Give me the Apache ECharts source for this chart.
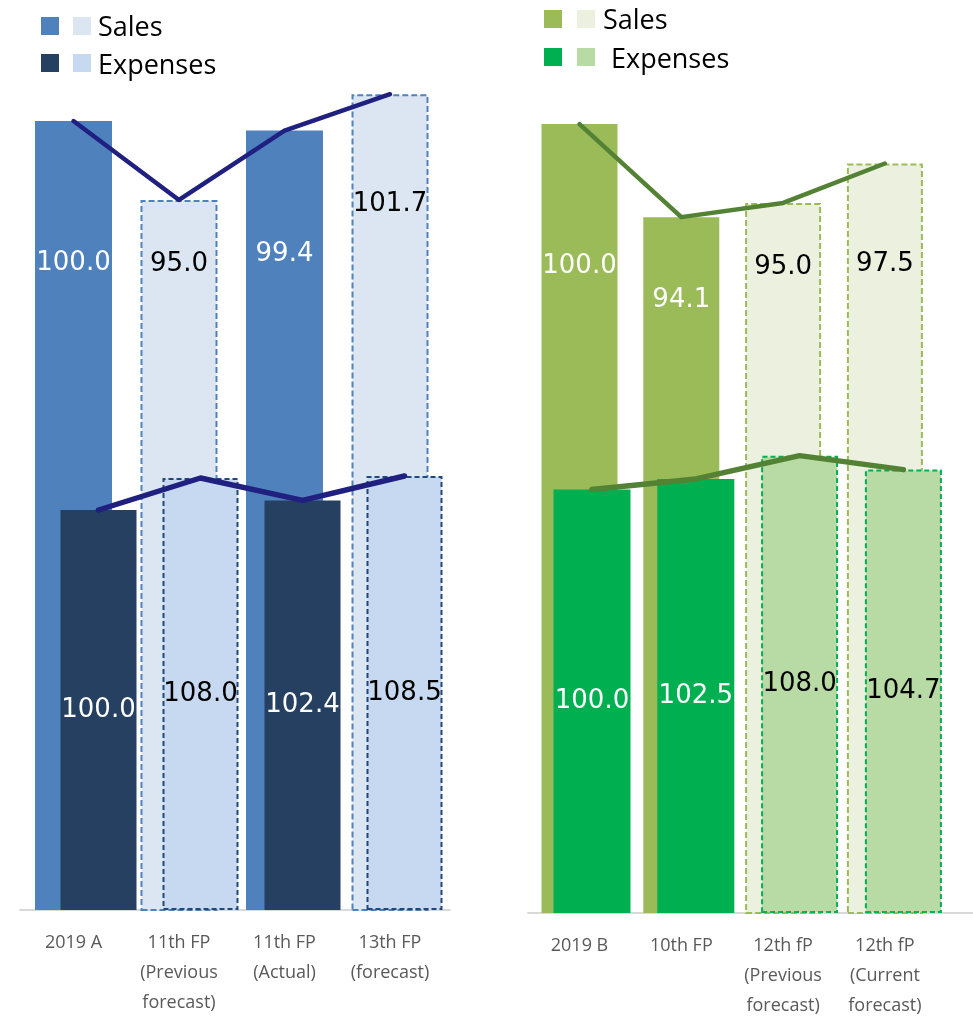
<!DOCTYPE html>
<html><head><meta charset="utf-8">
<script src="https://cdn.jsdelivr.net/npm/echarts@6/dist/echarts.min.js"></script>
<style>html,body{margin:0;padding:0;background:#fff}#c{width:973px;height:1021px}</style>
</head><body><div id="c"></div>
<script>
// ---------- data ----------
const leftCategories = ['2019 A', '11th FP\n(Previous\nforecast)', '11th FP\n(Actual)', '13th FP\n(forecast)'];
const leftSales = [100.0, 95.0, 99.4, 101.7];
const leftExpenses = [100.0, 108.0, 102.4, 108.5];
const leftIsForecast = [false, true, false, true];

const rightCategories = ['2019 B', '10th FP', '12th fP\n(Previous\nforecast)', '12th fP\n(Current\nforecast)'];
const rightSales = [100.0, 94.1, 95.0, 97.5];
const rightExpenses = [100.0, 102.5, 108.0, 104.7];
const rightIsForecast = [false, false, true, true];

const legendLabels = ['Sales', 'Expenses'];

// ---------- styles ----------
const LABEL_FONT = 'DejaVu Sans';
const UI_FONT = 'Open Sans';
const SALES_LABEL_DIST = 634;
const leftSalesLabelLift = [0, 0, 9, 60];
const rightSalesLabelLift = [0, -34, 0, 3];

const panels = [
  {
    cats: leftCategories, sales: leftSales, exp: leftExpenses, fc: leftIsForecast, lift: leftSalesLabelLift,
    salesGrid: {left: 20.75, width: 422, top: 30, height: 880},
    expGrid: {left: 47.5, width: 408, top: 30, height: 880},
    axisGrid: {left: 20, width: 430, top: 30, height: 880},
    salesMax: 105.77, expMax: 220,
    salesColor: '#4F81BD', salesFc: '#DCE6F2', salesFcBorder: '#4F81BD',
    expColor: '#254061', expFc: '#C6D9F1', expFcBorder: '#1F497D',
    lineColor: '#202080', salesLineW: 4.5, expLineW: 5.5,
    barW: [77, 76]
  },
  {
    cats: rightCategories, sales: rightSales, exp: rightExpenses, fc: rightIsForecast, lift: rightSalesLabelLift,
    salesGrid: {left: 528.6, width: 407.2, top: 33, height: 880},
    expGrid: {left: 540.1, width: 415.2, top: 33, height: 880},
    axisGrid: {left: 528, width: 445, top: 33, height: 880},
    salesMax: 105.77, expMax: 207.8,
    salesColor: '#9BBB59', salesFc: '#EBF1DE', salesFcBorder: '#9BBB59',
    expColor: '#00B050', expFc: '#B8DBA5', expFcBorder: '#00B050',
    lineColor: '#548235', salesLineW: 4.5, expLineW: 5.5,
    barW: [76, 77]
  }
];

const grid = [], xAxis = [], yAxis = [], series = [];

panels.forEach((p) => {
  const gi = grid.length;
  grid.push(p.salesGrid, p.expGrid, p.axisGrid);
  xAxis.push({
    type: 'category', gridIndex: gi, data: p.cats, boundaryGap: true,
    axisLine: {show: false}, axisTick: {show: false},
    axisLabel: {interval: 0, fontFamily: UI_FONT, fontSize: 18, color: '#595959', lineHeight: 30, margin: 18}
  });
  xAxis.push({type: 'category', gridIndex: gi + 1, data: p.cats, show: false});
  xAxis.push({
    type: 'category', gridIndex: gi + 2, data: p.cats,
    axisLine: {show: true, lineStyle: {color: '#D9D9D9', width: 2}},
    axisTick: {show: false}, axisLabel: {show: false}
  });
  yAxis.push({type: 'value', gridIndex: gi, min: 50, max: p.salesMax, show: false, splitLine: {show: false}});
  yAxis.push({type: 'value', gridIndex: gi + 1, min: 0, max: p.expMax, show: false, splitLine: {show: false}});
  yAxis.push({type: 'value', gridIndex: gi + 2, min: 0, max: 1, show: false, splitLine: {show: false}});

  const salesData = p.sales.map((v, i) => ({
    value: v,
    itemStyle: p.fc[i]
      ? {color: p.salesFc, borderColor: p.salesFcBorder, borderWidth: 2, borderType: [6, 3]}
      : {color: p.salesColor},
    label: {color: p.fc[i] ? '#000' : '#fff', distance: SALES_LABEL_DIST + p.lift[i]}
  }));
  const expData = p.exp.map((v, i) => ({
    value: v,
    itemStyle: p.fc[i]
      ? {color: p.expFc, borderColor: p.expFcBorder, borderWidth: 2, borderType: [5, 3]}
      : {color: p.expColor},
    label: {color: p.fc[i] ? '#000' : '#fff'}
  }));

  series.push({
    type: 'bar', name: legendLabels[0], xAxisIndex: gi, yAxisIndex: gi, barWidth: p.barW[0],
    data: salesData, z: 2,
    label: {show: true, position: 'insideBottom', fontFamily: LABEL_FONT, fontSize: 26,
      formatter: (d) => d.value.toFixed(1)}
  });
  series.push({
    type: 'bar', name: legendLabels[1], xAxisIndex: gi + 1, yAxisIndex: gi + 1, barWidth: p.barW[1],
    data: expData, z: 3,
    label: {show: true, position: 'inside', fontFamily: LABEL_FONT, fontSize: 26,
      formatter: (d) => d.value.toFixed(1)}
  });
  series.push({
    type: 'line', xAxisIndex: gi, yAxisIndex: gi, data: p.sales, symbol: 'none', z: 5,
    lineStyle: {color: p.lineColor, width: p.salesLineW, cap: 'round', join: 'round'}
  });
  series.push({
    type: 'line', xAxisIndex: gi + 1, yAxisIndex: gi + 1, data: p.exp, symbol: 'none', z: 5,
    lineStyle: {color: p.lineColor, width: p.expLineW, cap: 'round', join: 'round'}
  });
});

// legend built as graphic (two swatches per row: actual / forecast)
const legendSpec = [
  {x: [41, 73], ys: [17, 54], tx: [98, 98], ty: [28, 66], colors: [['#4F81BD', '#DCE6F2'], ['#254061', '#C6D9F1']]},
  {x: [544, 577], ys: [10, 48], tx: [603, 611], ty: [21.5, 60.5], colors: [['#9BBB59', '#EBF1DE'], ['#00B050', '#B8DBA5']]}
];
const graphic = [];
legendSpec.forEach((L) => {
  legendLabels.forEach((name, r) => {
    L.x.forEach((x, k) => {
      graphic.push({type: 'rect', silent: true, shape: {x: x, y: L.ys[r], width: 18, height: 18},
        style: {fill: L.colors[r][k]}});
    });
    graphic.push({type: 'text', silent: true, style: {text: name, x: L.tx[r], y: L.ty[r],
      verticalAlign: 'middle', fontFamily: UI_FONT, fontSize: 27, fill: '#000'}});
  });
});

const chart = echarts.init(document.getElementById('c'), null, {renderer: 'canvas'});
chart.setOption({
  animation: false,
  backgroundColor: '#fff',
  grid: grid, xAxis: xAxis, yAxis: yAxis, series: series, graphic: graphic
});
</script></body></html>
